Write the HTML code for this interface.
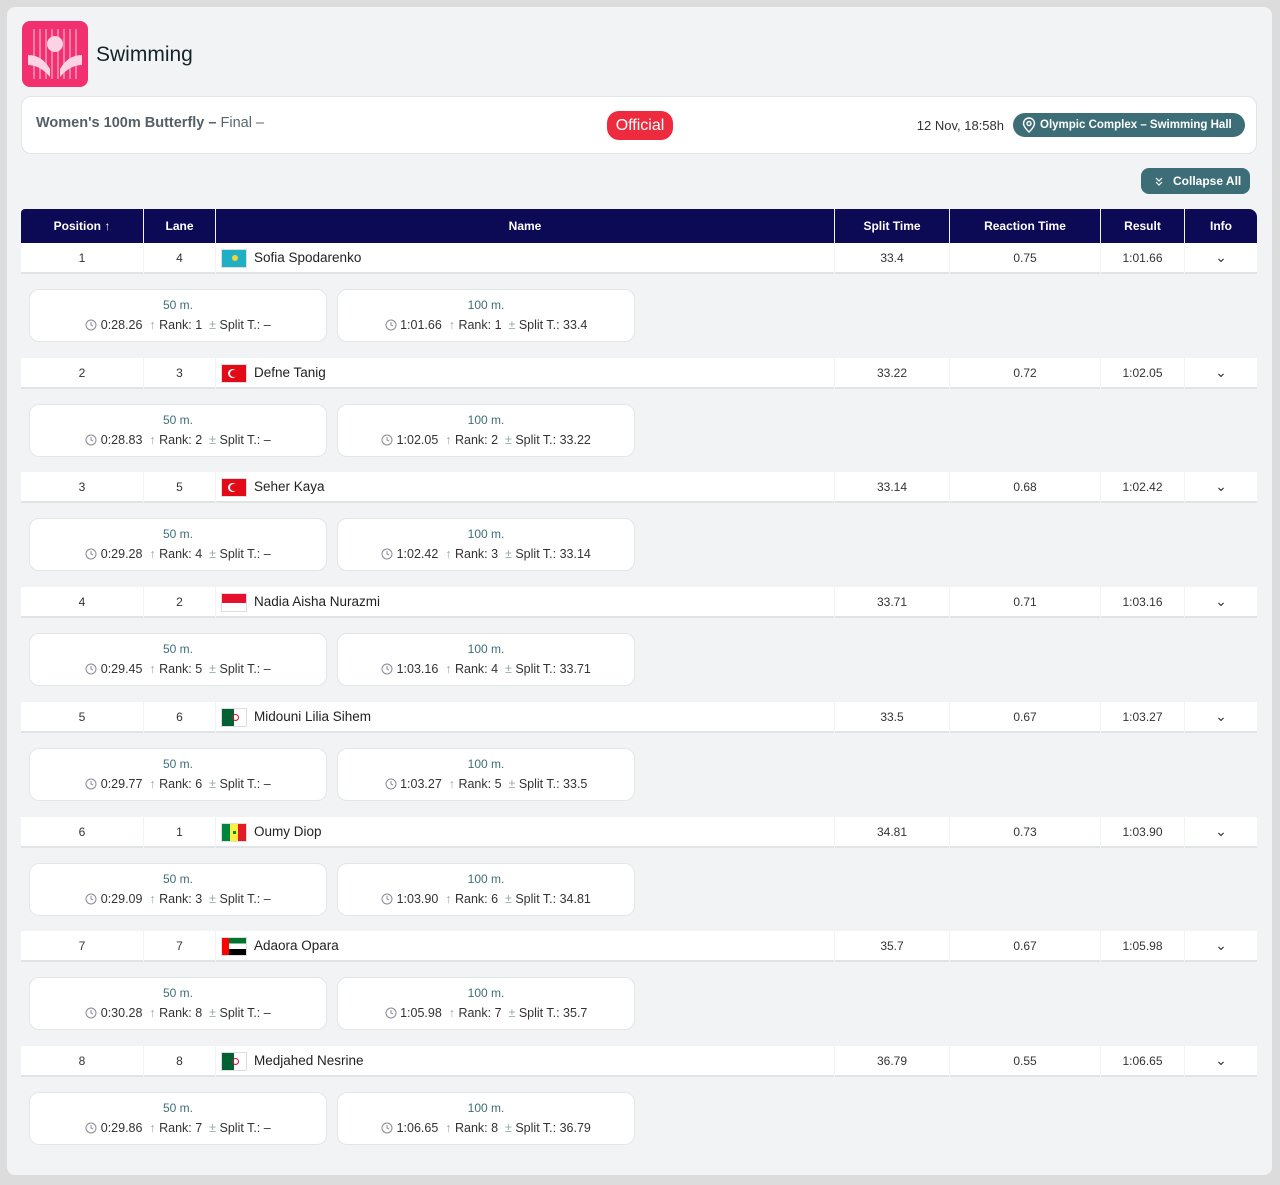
<!DOCTYPE html>
<html><head><meta charset="utf-8">
<style>
*{box-sizing:border-box;margin:0;padding:0}
body{width:1280px;height:1185px;background:#dcdcdc;font-family:"Liberation Sans",sans-serif;position:relative;overflow:hidden;color:#1f2a33}
#wrap{position:absolute;left:7px;top:7px;width:1265px;height:1168px;background:#f1f3f5;border-radius:8px}
.abs{position:absolute}
#logo{left:22px;top:21px;width:66px;height:66px;border-radius:8px;background:#f2306f;overflow:hidden}
#title{left:96px;top:43px;font-size:21px;color:#15242b;font-weight:500}
#event{left:21px;top:96px;width:1236px;height:58px;background:#fff;border:1px solid #e1e5e8;border-radius:10px}
#evname{left:14px;top:18px;font-size:14.5px;color:#5b6670}
#official{left:585px;top:14px;width:66px;height:29px;background:#ee2a3e;color:#fff;border-radius:12px;font-size:16px;text-align:center;line-height:29px}
#date{right:252px;top:21px;font-size:13px;color:#333}
#venue{left:991px;top:16px;width:232px;height:24px;background:#3d6e78;color:#fff;border-radius:12px;font-size:11.5px;font-weight:bold;line-height:24px;padding-left:27px;white-space:nowrap;overflow:hidden}
#collapse{left:1141px;top:168px;width:109px;height:26px;background:#3d6e78;color:#fff;border-radius:8px;font-size:12px;font-weight:bold;line-height:26px;padding-left:32px}
.hd{top:209px;height:34px;background:#0d0a55;color:#fff;font-size:12px;font-weight:bold;text-align:center;line-height:34px}
.cell{height:31px;background:#fff;border-bottom:2px solid #e0e4e7;font-size:12px;text-align:center;line-height:30px;color:#333}
.card{width:298px;height:53px;background:#fff;border:1px solid #e3e6e8;border-radius:10px;text-align:center}
.card .t{font-size:12px;color:#3d6e78;margin-top:8px}
.card .s{font-size:12.5px;color:#333;margin-top:6px}
.g{color:#9aa}
.flag{width:26px;height:19px;border:1px solid #ddd;top:6px;left:5px;overflow:hidden}
</style></head><body>
<div id="wrap"></div>
<div id="logo" class="abs">
<svg width="66" height="66"><g stroke="#f77ca6" stroke-width="2">
<line x1="12" y1="8" x2="12" y2="58"/><line x1="18" y1="8" x2="18" y2="58"/><line x1="24" y1="8" x2="24" y2="58"/><line x1="30" y1="8" x2="30" y2="58"/><line x1="36" y1="8" x2="36" y2="58"/><line x1="42" y1="8" x2="42" y2="58"/><line x1="48" y1="8" x2="48" y2="58"/><line x1="54" y1="8" x2="54" y2="58"/></g>
<circle cx="33" cy="23" r="8" fill="#fbd3e2"/><path d="M6 34 Q20 34 28 48 L28 56 Q18 44 6 44Z" fill="#fbd3e2"/><path d="M60 34 Q46 34 38 48 L38 56 Q48 44 60 44Z" fill="#fbd3e2"/></svg></div>
<div id="title" class="abs">Swimming</div>
<div id="event" class="abs">
<div id="evname" class="abs"><b style="color:#555f68">Women's 100m Butterfly –</b> Final –</div>
<div id="official" class="abs">Official</div>
<div id="date" class="abs">12 Nov, 18:58h</div>
<div id="venue" class="abs"><svg class="abs" style="left:9px;top:4px" width="14" height="16"><path d="M7 1a5.5 5.5 0 0 1 5.5 5.5C12.5 10 7 15 7 15S1.5 10 1.5 6.5A5.5 5.5 0 0 1 7 1z" fill="none" stroke="#fff" stroke-width="1.4"/><circle cx="7" cy="6.5" r="2" fill="none" stroke="#fff" stroke-width="1.4"/></svg>Olympic Complex – Swimming Hall</div>
</div>
<div id="collapse" class="abs"><svg class="abs" style="left:13px;top:8px" width="10" height="10"><path d="M2 2l3 3 3-3M2 6l3 3 3-3" fill="none" stroke="#fff" stroke-width="1.2"/></svg>Collapse All</div>
<div id="tbl"></div>
<script>
const positions=[1,2,3,4,5,6,7,8];
const lanes=[4,3,5,2,6,1,7,8];
const names=["Sofia Spodarenko","Defne Tanig","Seher Kaya","Nadia Aisha Nurazmi","Midouni Lilia Sihem","Oumy Diop","Adaora Opara","Medjahed Nesrine"];
const countries=["KAZ","TUR","TUR","INA","ALG","SEN","UAE","ALG"];
const splitTimes=["33.4","33.22","33.14","33.71","33.5","34.81","35.7","36.79"];
const reactionTimes=["0.75","0.72","0.68","0.71","0.67","0.73","0.67","0.55"];
const results=["1:01.66","1:02.05","1:02.42","1:03.16","1:03.27","1:03.90","1:05.98","1:06.65"];
const time50=["0:28.26","0:28.83","0:29.28","0:29.45","0:29.77","0:29.09","0:30.28","0:29.86"];
const rank50=[1,2,4,5,6,3,8,7];
const rank100=[1,2,3,4,5,6,7,8];
const cols=[[21,122,"Position ↑"],[144,71,"Lane"],[216,618,"Name"],[835,114,"Split Time"],[950,150,"Reaction Time"],[1101,83,"Result"],[1185,72,"Info"]];
const flags={
KAZ:'<div style="width:100%;height:100%;background:#1fb0c4;position:relative"><div style="position:absolute;left:10px;top:5px;width:6px;height:6px;border-radius:3px;background:#f3d23a"></div></div>',
TUR:'<div style="width:100%;height:100%;background:#e30a17;position:relative"><div style="position:absolute;left:6px;top:4px;width:9px;height:9px;border-radius:5px;background:#fff"></div><div style="position:absolute;left:8px;top:5px;width:8px;height:7px;border-radius:4px;background:#e30a17"></div></div>',
INA:'<div style="width:100%;height:50%;background:#e8112d"></div><div style="height:50%;background:#fff"></div>',
ALG:'<div style="width:100%;height:100%;background:linear-gradient(90deg,#006233 50%,#fff 50%);position:relative"><div style="position:absolute;left:10px;top:5px;width:7px;height:7px;border-radius:4px;border:1.5px solid #d21034"></div></div>',
SEN:'<div style="width:100%;height:100%;background:linear-gradient(90deg,#00853f 33%,#fdef42 33% 66%,#e31b23 66%);position:relative"><div style="position:absolute;left:11px;top:7px;width:3px;height:3px;background:#00853f"></div></div>',
UAE:'<div style="width:100%;height:100%;background:linear-gradient(#00732f 33%,#fff 33% 66%,#000 66%);position:relative"><div style="position:absolute;left:0;top:0;width:7px;height:100%;background:#ff0000"></div></div>'};
const tbl=document.getElementById('tbl');
cols.forEach((c,i)=>{const d=document.createElement('div');d.className='abs hd';


d.style.left=c[0]+'px';d.style.width=c[1]+'px';d.textContent=c[2];
if(i==0)d.style.borderTopLeftRadius='4px';if(i==6)d.style.borderTopRightRadius='8px';tbl.appendChild(d);});
const clock='<svg width="12" height="12" style="vertical-align:-2px"><circle cx="6" cy="6" r="5" fill="none" stroke="#889" stroke-width="1"/><path d="M6 3v3l2 1" fill="none" stroke="#889"/></svg>';
positions.forEach((p,r)=>{
 const y=243+r*114.7;
 const vals=[p,lanes[r],'',splitTimes[r],reactionTimes[r],results[r],'⌄'];
 cols.forEach((c,i)=>{const d=document.createElement('div');d.className='abs cell';
  
  
  d.style.left=c[0]+'px';d.style.width=c[1]+'px';d.style.top=y+'px';
  if(i==2){d.style.textAlign='left';d.innerHTML='<div class="abs flag">'+flags[countries[r]]+'</div><span style="position:absolute;left:38px;font-size:13.5px;color:#222">'+names[r]+'</span>';}
  else if(i==6){d.innerHTML='<span style="font-size:14px;line-height:24px">⌄</span>';}
  else d.textContent=vals[i];
  tbl.appendChild(d);});
 const cards=[[29,'50 m.',time50[r],rank50[r],'–'],[337,'100 m.',results[r],rank100[r],splitTimes[r]]];
 cards.forEach(cd=>{const d=document.createElement('div');d.className='abs card';
  
  
  d.style.left=cd[0]+'px';d.style.top=(y+46)+'px';
  d.innerHTML='<div class="t">'+cd[1]+'</div><div class="s">'+clock+' '+cd[2]+' &nbsp;<span class="g">↑</span> Rank: '+cd[3]+' &nbsp;<span class="g">±</span> Split T.: '+cd[4]+'</div>';
  tbl.appendChild(d);});
});
</script>
</body></html>
